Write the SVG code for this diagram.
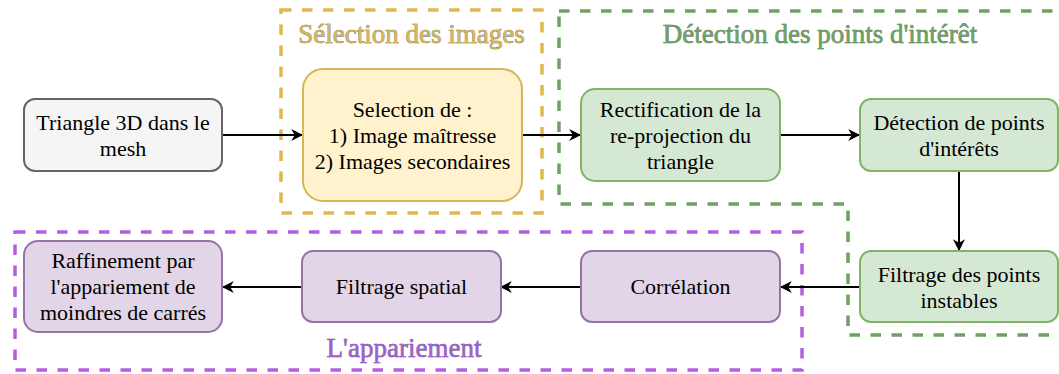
<svg xmlns="http://www.w3.org/2000/svg" width="1059" height="374" viewBox="0 0 1059 374">
<defs>
<style>
text{font-family:"Liberation Serif","Times New Roman",Times,serif}
.frame{fill:none;stroke-width:3.5;stroke-dasharray:10.5 10.5}
.node text{font-size:22px;fill:#000;text-anchor:middle}
.title{font-size:27px;text-anchor:middle;stroke:#444;stroke-width:0.5;paint-order:stroke}
.gray rect{fill:#f5f5f5;stroke:#666666;stroke-width:2}
.yel rect{fill:#fff2cc;stroke:#d6b656;stroke-width:2}
.grn rect{fill:#d5e8d4;stroke:#82b366;stroke-width:2}
.pur rect{fill:#e1d5e7;stroke:#9673a6;stroke-width:2}
.edge{stroke:#000;stroke-width:2;fill:none;marker-end:url(#arr)}
</style>
<marker id="arr" viewBox="0 0 10 10" refX="9" refY="5" markerWidth="6" markerHeight="6" markerUnits="strokeWidth" orient="auto">
<path d="M0,0 L10,5 L0,10 L3,5 Z" fill="#000"/>
</marker>
</defs>
<rect width="1059" height="374" fill="#ffffff"/>

<g id="frames">
<rect id="frame-selection" class="frame" x="281" y="10" width="261" height="203" stroke="#e0b84f"/>
<path id="frame-detection" class="frame" d="M559,11 L1070,11 M1070,335 L848,335 L848,204 L559,204 L559,11" stroke="#6da362"/>
<rect id="frame-appariement" class="frame" x="15" y="232" width="787" height="138" stroke="#b45ee0"/>
<text class="title" x="411.5" y="43" fill="#d6b656">Sélection des images</text>
<text class="title" x="820" y="43" fill="#6aa35e">Détection des points d'intérêt</text>
<text class="title" x="404" y="357" fill="#a35dd6">L'appariement</text>
</g>

<g id="connectors">
<line class="edge" x1="222" y1="135" x2="302" y2="135"/>
<line class="edge" x1="521" y1="135" x2="580" y2="135"/>
<line class="edge" x1="780" y1="135" x2="859" y2="135"/>
<line class="edge" x1="959" y1="171" x2="959" y2="250"/>
<line class="edge" x1="860" y1="287" x2="781" y2="287"/>
<line class="edge" x1="581" y1="287" x2="501" y2="287"/>
<line class="edge" x1="302" y1="287" x2="223" y2="287"/>
</g>

<g id="n-triangle" class="node gray">
<rect x="24" y="99" width="198" height="72" rx="11"/>
<text x="123" y="129.5">Triangle 3D dans le</text>
<text x="123" y="155.5">mesh</text>
</g>

<g id="n-selection" class="node yel">
<rect x="303" y="69" width="219" height="132" rx="20"/>
<text x="412.5" y="116.5">Selection de :</text>
<text x="412.5" y="142.5">1) Image maîtresse</text>
<text x="412.5" y="168.5">2) Images secondaires</text>
</g>

<g id="n-rectification" class="node grn">
<rect x="581" y="89" width="199" height="92" rx="14"/>
<text x="680.5" y="117">Rectification de la</text>
<text x="680.5" y="143">re-projection du</text>
<text x="680.5" y="169">triangle</text>
</g>

<g id="n-detection" class="node grn">
<rect x="860" y="99" width="198" height="72" rx="11"/>
<text x="959" y="129.5">Détection de points</text>
<text x="959" y="155.5">d'intérêts</text>
</g>

<g id="n-filtrage-instables" class="node grn">
<rect x="860" y="251" width="198" height="71" rx="11"/>
<text x="959" y="281.5">Filtrage des points</text>
<text x="959" y="307.5">instables</text>
</g>

<g id="n-correlation" class="node pur">
<rect x="581" y="251" width="199" height="71" rx="11"/>
<text x="680.5" y="294">Corrélation</text>
</g>

<g id="n-filtrage-spatial" class="node pur">
<rect x="302" y="251" width="199" height="71" rx="11"/>
<text x="401.5" y="294">Filtrage spatial</text>
</g>

<g id="n-raffinement" class="node pur">
<rect x="24" y="241" width="198" height="91" rx="14"/>
<text x="123" y="268">Raffinement par</text>
<text x="123" y="294">l'appariement de</text>
<text x="123" y="320">moindres de carrés</text>
</g>
</svg>
